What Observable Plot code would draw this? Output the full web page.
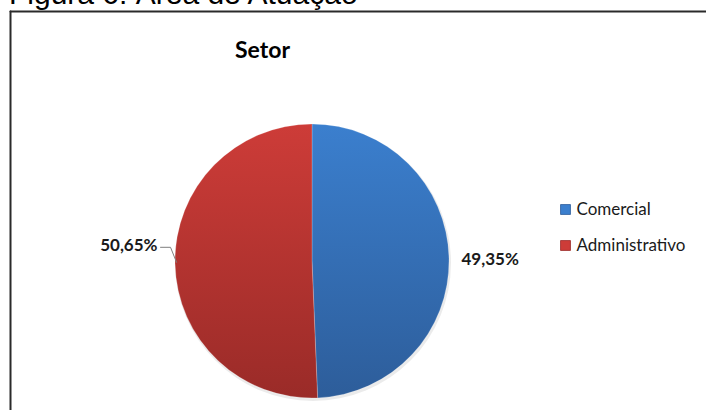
<!DOCTYPE html>
<html>
<head>
<meta charset="utf-8">
<script src="https://cdn.jsdelivr.net/npm/d3@7"></script>
<script src="https://cdn.jsdelivr.net/npm/@observablehq/plot@0.6"></script>
<style>
  html, body { margin: 0; padding: 0; background: #fff; overflow: hidden; }
  #chart { position: relative; width: 706px; height: 410px; }
  #fig { position: absolute; left: 9px; top: -21px; font-family: "Liberation Sans", Arial, sans-serif; font-size: 30px; color: #000; white-space: nowrap; line-height: 1; }
  #chart svg { position: absolute; left: 0; top: 0; }
  #err { position: absolute; left: 20px; top: 100px; color: red; font: 12px monospace; white-space: pre-wrap; width: 660px; }
</style>
</head>
<body>
<div id="chart"><div id="fig">Figura 6: Área de Atuação</div></div>
<script>
// ---- data ----
const categories = ["Comercial", "Administrativo"];
const values = [49.35, 50.65];
const valueLabels = ["49,35%", "50,65%"];
const chartTitle = "Setor";
const colorTop = ["#3b7fce", "#cd3c38"];
const colorBottom = ["#2d5d9a", "#9a2b28"];

// ---- layout ----
const W = 706, H = 410;
const cx = 312, cy = 261, R = 137;
const FONT = "Lato, 'Open Sans', sans-serif";

try {
const pie = d3.pie().sort(null).value(d => d.value);
const table = categories.map((c, i) => ({category: c, value: values[i], label: valueLabels[i], i}));
const arcs = pie(table);

function pieMark(index, scales) {
  const g = d3.create("svg:g");
  const defs = g.append("defs");
  table.forEach((d, i) => {
    const lg = defs.append("linearGradient").attr("id", "grad" + i)
      .attr("x1", 0).attr("y1", 0).attr("x2", 0).attr("y2", 1);
    lg.append("stop").attr("offset", "0%").attr("stop-color", colorTop[i]);
    lg.append("stop").attr("offset", "100%").attr("stop-color", colorBottom[i]);
  });
  const px = scales.x(cx), py = scales.y(cy);
  const rr = scales.x(cx + R) - scales.x(cx);
  const arc = d3.arc().innerRadius(0).outerRadius(rr);
  g.append("circle").attr("cx", px + 1).attr("cy", py + 2).attr("r", rr + 1)
    .attr("fill", "#000").attr("opacity", 0.08);
  g.selectAll("path.slice").data(arcs).join("path")
    .attr("class", "slice")
    .attr("transform", `translate(${px},${py})`)
    .attr("d", arc)
    .attr("fill", (d, i) => `url(#grad${i})`)
    .attr("stroke", "#ffffff").attr("stroke-opacity", 0.35).attr("stroke-width", 0.6);
  return g.node();
}

const labelPos = arcs.map((a, i) => {
  const mid = (a.startAngle + a.endAngle) / 2;
  const ax = cx + R * Math.sin(mid), ay = cy - R * Math.cos(mid);
  return {...a.data, ax, ay, side: Math.sin(mid) > 0 ? 1 : -1};
});
const labelOffsets = [{dx: 12, dy: 1}, {dx: -18, dy: -19}];
const labelData = labelPos.map((d, i) => ({
  ...d,
  lx: d.ax + labelOffsets[i].dx,
  ly: d.ay + labelOffsets[i].dy
}));
const leader = [];
{
  const d = labelData[1];
  leader.push({x: d.lx + 3, y: d.ly + 2});
  leader.push({x: d.lx + 13, y: d.ly + 2});
  leader.push({x: d.ax + 1, y: d.ay - 2});
}

const legendX = 565, legendY0 = 209, legendStep = 36;
const legend = categories.map((c, i) => ({category: c, i, x: legendX, y: legendY0 + i * legendStep}));

const plot = Plot.plot({
  width: W, height: H,
  margin: 0,
  x: {domain: [0, W], range: [0, W], axis: null},
  y: {domain: [0, H], range: [0, H], axis: null},
  style: {background: "transparent", overflow: "visible"},
  marks: [
    Plot.line([{x: 10, y: 11}, {x: W + 5, y: 11}], {x: "x", y: "y", stroke: "#2a2a2a", strokeWidth: 2}),
    Plot.line([{x: 10, y: 11}, {x: 10, y: H + 5}], {x: "x", y: "y", stroke: "#2a2a2a", strokeWidth: 2}),
    pieMark,
    Plot.line(leader, {x: "x", y: "y", stroke: "#7f7f7f", strokeWidth: 1}),
    Plot.text(labelData.filter(d => d.side > 0), {
      x: "lx", y: "ly", text: "label", textAnchor: "start",
      fontFamily: FONT, fontWeight: "bold", fontSize: 17, fill: "#1a1a1a"
    }),
    Plot.text(labelData.filter(d => d.side < 0), {
      x: "lx", y: "ly", text: "label", textAnchor: "end",
      fontFamily: FONT, fontWeight: "bold", fontSize: 17, fill: "#1a1a1a"
    }),
    Plot.text([chartTitle], {
      x: () => 262, y: () => 50, text: d => d,
      fontFamily: FONT, fontWeight: "bold", fontSize: 23, fill: "#000"
    }),
    Plot.dot(legend, {x: "x", y: "y", symbol: "square", r: 5.6, fill: d => colorTop[d.i], stroke: d => colorBottom[d.i], strokeWidth: 0.8}),
    Plot.text(legend, {
      x: d => d.x + 11, y: "y", text: "category", textAnchor: "start",
      fontFamily: FONT, fontSize: 17, fill: "#1a1a1a"
    })
  ]
});
document.getElementById("chart").appendChild(plot);
} catch (e) {
  const d = document.createElement("div"); d.id = "err"; d.textContent = e.stack || e; document.getElementById("chart").appendChild(d);
}
</script>
</body>
</html>
